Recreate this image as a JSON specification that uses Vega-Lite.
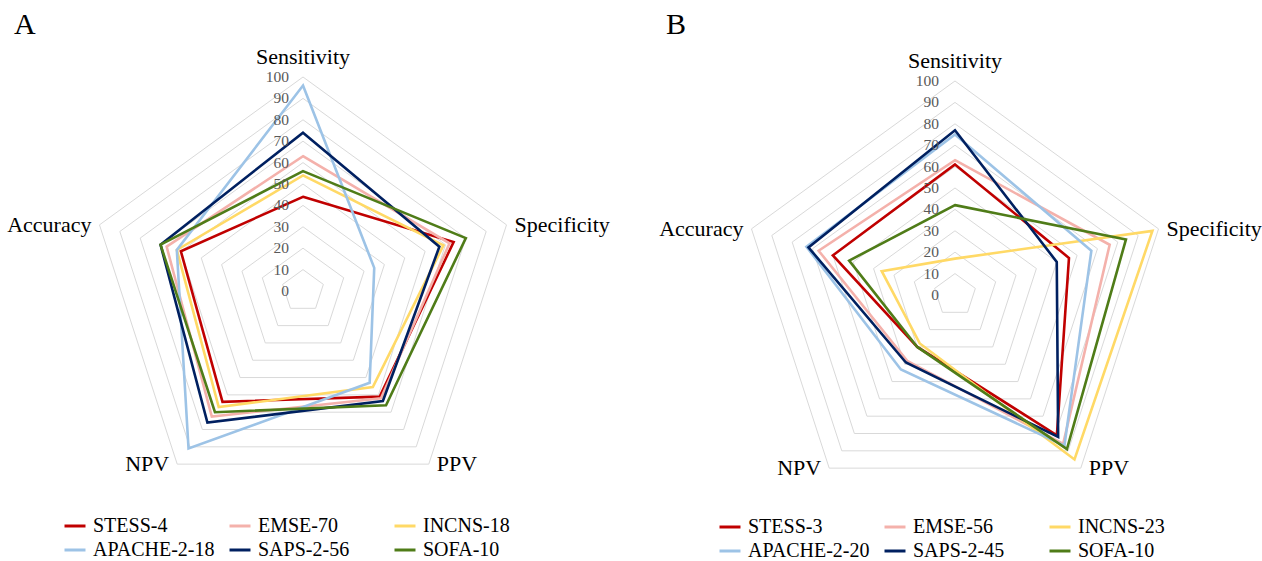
{
  "$schema": "https://vega.github.io/schema/vega-lite/v6.json",
  "padding": {"top": 10, "left": 0, "right": 0, "bottom": 0},
  "spacing": 22,
  "config": {
    "view": {"stroke": null},
    "font": "Liberation Serif",
    "legend": {"labelFont": "Liberation Serif", "labelFontSize": 20, "labelColor": "black", "direction": "horizontal"},
    "title": {"font": "Liberation Serif"}
  },
  "datasets": {
    "gridRows": [
      {"g":10,"k":0},{"g":10,"k":1},{"g":10,"k":2},{"g":10,"k":3},{"g":10,"k":4},
      {"g":20,"k":0},{"g":20,"k":1},{"g":20,"k":2},{"g":20,"k":3},{"g":20,"k":4},
      {"g":30,"k":0},{"g":30,"k":1},{"g":30,"k":2},{"g":30,"k":3},{"g":30,"k":4},
      {"g":40,"k":0},{"g":40,"k":1},{"g":40,"k":2},{"g":40,"k":3},{"g":40,"k":4},
      {"g":50,"k":0},{"g":50,"k":1},{"g":50,"k":2},{"g":50,"k":3},{"g":50,"k":4},
      {"g":60,"k":0},{"g":60,"k":1},{"g":60,"k":2},{"g":60,"k":3},{"g":60,"k":4},
      {"g":70,"k":0},{"g":70,"k":1},{"g":70,"k":2},{"g":70,"k":3},{"g":70,"k":4},
      {"g":80,"k":0},{"g":80,"k":1},{"g":80,"k":2},{"g":80,"k":3},{"g":80,"k":4},
      {"g":90,"k":0},{"g":90,"k":1},{"g":90,"k":2},{"g":90,"k":3},{"g":90,"k":4},
      {"g":100,"k":0},{"g":100,"k":1},{"g":100,"k":2},{"g":100,"k":3},{"g":100,"k":4}
    ],
    "ticks": [{"t":0},{"t":10},{"t":20},{"t":30},{"t":40},{"t":50},{"t":60},{"t":70},{"t":80},{"t":90},{"t":100}],
    "metrics": [{"metric":"Sensitivity"},{"metric":"Specificity"},{"metric":"PPV"},{"metric":"NPV"},{"metric":"Accuracy"}],
    "scoresA": [
      {"model":"STESS-4","metric":"Sensitivity","value":44},{"model":"STESS-4","metric":"Specificity","value":74},{"model":"STESS-4","metric":"PPV","value":61},{"model":"STESS-4","metric":"NPV","value":64},{"model":"STESS-4","metric":"Accuracy","value":60},
      {"model":"EMSE-70","metric":"Sensitivity","value":63},{"model":"EMSE-70","metric":"Specificity","value":72},{"model":"EMSE-70","metric":"PPV","value":62},{"model":"EMSE-70","metric":"NPV","value":72.5},{"model":"EMSE-70","metric":"Accuracy","value":67},
      {"model":"INCNS-18","metric":"Sensitivity","value":54},{"model":"INCNS-18","metric":"Specificity","value":69},{"model":"INCNS-18","metric":"PPV","value":55.5},{"model":"INCNS-18","metric":"NPV","value":67},{"model":"INCNS-18","metric":"Accuracy","value":62},
      {"model":"APACHE-2-18","metric":"Sensitivity","value":96},{"model":"APACHE-2-18","metric":"Specificity","value":35},{"model":"APACHE-2-18","metric":"PPV","value":53},{"model":"APACHE-2-18","metric":"NPV","value":91},{"model":"APACHE-2-18","metric":"Accuracy","value":62},
      {"model":"SAPS-2-56","metric":"Sensitivity","value":74},{"model":"SAPS-2-56","metric":"Specificity","value":67},{"model":"SAPS-2-56","metric":"PPV","value":63.5},{"model":"SAPS-2-56","metric":"NPV","value":76},{"model":"SAPS-2-56","metric":"Accuracy","value":70},
      {"model":"SOFA-10","metric":"Sensitivity","value":56},{"model":"SOFA-10","metric":"Specificity","value":80},{"model":"SOFA-10","metric":"PPV","value":66},{"model":"SOFA-10","metric":"NPV","value":70},{"model":"SOFA-10","metric":"Accuracy","value":70}
    ],
    "scoresB": [
      {"model":"STESS-3","metric":"Sensitivity","value":61},{"model":"STESS-3","metric":"Specificity","value":56},{"model":"STESS-3","metric":"PPV","value":81},{"model":"STESS-3","metric":"NPV","value":30},{"model":"STESS-3","metric":"Accuracy","value":60},
      {"model":"EMSE-56","metric":"Sensitivity","value":63},{"model":"EMSE-56","metric":"Specificity","value":76},{"model":"EMSE-56","metric":"PPV","value":86},{"model":"EMSE-56","metric":"NPV","value":38},{"model":"EMSE-56","metric":"Accuracy","value":67},
      {"model":"INCNS-23","metric":"Sensitivity","value":17},{"model":"INCNS-23","metric":"Specificity","value":97},{"model":"INCNS-23","metric":"PPV","value":95},{"model":"INCNS-23","metric":"NPV","value":28},{"model":"INCNS-23","metric":"Accuracy","value":36},
      {"model":"APACHE-2-20","metric":"Sensitivity","value":75},{"model":"APACHE-2-20","metric":"Specificity","value":67},{"model":"APACHE-2-20","metric":"PPV","value":87},{"model":"APACHE-2-20","metric":"NPV","value":43},{"model":"APACHE-2-20","metric":"Accuracy","value":73},
      {"model":"SAPS-2-45","metric":"Sensitivity","value":77},{"model":"SAPS-2-45","metric":"Specificity","value":50},{"model":"SAPS-2-45","metric":"PPV","value":82},{"model":"SAPS-2-45","metric":"NPV","value":39},{"model":"SAPS-2-45","metric":"Accuracy","value":72},
      {"model":"SOFA-10","metric":"Sensitivity","value":42},{"model":"SOFA-10","metric":"Specificity","value":84},{"model":"SOFA-10","metric":"PPV","value":89},{"model":"SOFA-10","metric":"NPV","value":30},{"model":"SOFA-10","metric":"Accuracy","value":52}
    ]
  },
  "resolve": {"scale": {"x": "independent", "y": "independent", "color": "independent"}, "legend": {"color": "independent"}},
  "hconcat": [
    {
      "width": 620,
      "height": 527,
      "title": {"text": "A", "anchor": "start", "frame": "group", "fontSize": 30, "font": "Liberation Serif", "fontWeight": "normal", "color": "black", "offset": 0, "dx": 14, "dy": 10},
      "layer": [
        {
          "data": {"name": "gridRows"},
          "transform": [
            {"calculate": "datum.g*sin(datum.k*2*PI/5)", "as": "px"},
            {"calculate": "datum.g*cos(datum.k*2*PI/5)", "as": "py"}
          ],
          "mark": {"type": "line", "interpolate": "linear-closed", "stroke": "#D9D9D9", "strokeWidth": 1},
          "encoding": {
            "x": {"field": "px", "type": "quantitative", "scale": {"domain": [-141.59, 148.13], "nice": false, "zero": false}, "axis": null},
            "y": {"field": "py", "type": "quantitative", "scale": {"domain": [-124.3, 121.96], "nice": false, "zero": false}, "axis": null},
            "detail": {"field": "g", "type": "nominal"},
            "order": {"field": "k", "type": "quantitative"}
          }
        },
        {
          "data": {"name": "scoresA"},
          "transform": [
            {"calculate": "indexof(['Sensitivity','Specificity','PPV','NPV','Accuracy'], datum.metric)", "as": "k"},
            {"calculate": "datum.value*sin(datum.k*2*PI/5)", "as": "px"},
            {"calculate": "datum.value*cos(datum.k*2*PI/5)", "as": "py"}
          ],
          "mark": {"type": "line", "interpolate": "linear-closed", "strokeWidth": 2.6, "strokeJoin": "miter"},
          "encoding": {
            "x": {"field": "px", "type": "quantitative", "scale": {"domain": [-141.59, 148.13], "nice": false, "zero": false}, "axis": null},
            "y": {"field": "py", "type": "quantitative", "scale": {"domain": [-124.3, 121.96], "nice": false, "zero": false}, "axis": null},
            "color": {
              "field": "model", "type": "nominal",
              "scale": {"domain": ["STESS-4","EMSE-70","INCNS-18","APACHE-2-18","SAPS-2-56","SOFA-10"], "range": ["#C00000","#F4B1AB","#FFD966","#9DC3E6","#002060","#4F7C18"]},
              "legend": {"title": null, "orient": "none", "direction": "horizontal", "legendX": 63, "legendY": 484, "columns": 3, "gridAlign": "all", "columnPadding": 8, "rowPadding": 2, "symbolType": "stroke", "symbolSize": 441, "symbolStrokeWidth": 3, "labelFont": "Liberation Serif", "labelFontSize": 20, "labelColor": "black", "labelOffset": 6, "labelLimit": 300, "padding": 0}
            },
            "order": {"field": "k", "type": "quantitative"}
          }
        },
        {
          "data": {"name": "ticks"},
          "mark": {"type": "text", "align": "right", "baseline": "middle", "dx": -14, "fontSize": 15.5, "font": "Liberation Serif", "color": "#595959"},
          "encoding": {
            "x": {"datum": 0, "type": "quantitative", "scale": {"domain": [-141.59, 148.13], "nice": false, "zero": false}, "axis": null},
            "y": {"field": "t", "type": "quantitative", "scale": {"domain": [-124.3, 121.96], "nice": false, "zero": false}, "axis": null},
            "text": {"field": "t", "type": "quantitative"}
          }
        },
        {
          "data": {"name": "metrics"},
          "transform": [
            {"filter": "datum.metric == 'Sensitivity'"},
            {"calculate": "0", "as": "px"},
            {"calculate": "100", "as": "py"}
          ],
          "mark": {"type": "text", "align": "center", "baseline": "alphabetic", "dy": -13, "fontSize": 22, "font": "Liberation Serif", "color": "black"},
          "encoding": {
            "x": {"field": "px", "type": "quantitative", "scale": {"domain": [-141.59, 148.13], "nice": false, "zero": false}, "axis": null},
            "y": {"field": "py", "type": "quantitative", "scale": {"domain": [-124.3, 121.96], "nice": false, "zero": false}, "axis": null},
            "text": {"field": "metric"}
          }
        },
        {
          "data": {"name": "metrics"},
          "transform": [
            {"calculate": "indexof(['Sensitivity','Specificity','PPV','NPV','Accuracy'], datum.metric)", "as": "k"},
            {"filter": "datum.metric == 'Specificity' || datum.metric == 'PPV'"},
            {"calculate": "100*sin(datum.k*2*PI/5)", "as": "px"},
            {"calculate": "100*cos(datum.k*2*PI/5)", "as": "py"}
          ],
          "mark": {"type": "text", "align": "left", "baseline": "middle", "dx": 8, "dy": 0, "fontSize": 22, "font": "Liberation Serif", "color": "black"},
          "encoding": {
            "x": {"field": "px", "type": "quantitative", "scale": {"domain": [-141.59, 148.13], "nice": false, "zero": false}, "axis": null},
            "y": {"field": "py", "type": "quantitative", "scale": {"domain": [-124.3, 121.96], "nice": false, "zero": false}, "axis": null},
            "text": {"field": "metric"}
          }
        },
        {
          "data": {"name": "metrics"},
          "transform": [
            {"calculate": "indexof(['Sensitivity','Specificity','PPV','NPV','Accuracy'], datum.metric)", "as": "k"},
            {"filter": "datum.metric == 'Accuracy' || datum.metric == 'NPV'"},
            {"calculate": "100*sin(datum.k*2*PI/5)", "as": "px"},
            {"calculate": "100*cos(datum.k*2*PI/5)", "as": "py"}
          ],
          "mark": {"type": "text", "align": "right", "baseline": "middle", "dx": -8, "dy": 0, "fontSize": 22, "font": "Liberation Serif", "color": "black"},
          "encoding": {
            "x": {"field": "px", "type": "quantitative", "scale": {"domain": [-141.59, 148.13], "nice": false, "zero": false}, "axis": null},
            "y": {"field": "py", "type": "quantitative", "scale": {"domain": [-124.3, 121.96], "nice": false, "zero": false}, "axis": null},
            "text": {"field": "metric"}
          }
        }
      ]
    },
    {
      "width": 620,
      "height": 527,
      "title": {"text": "B", "anchor": "start", "frame": "group", "fontSize": 30, "font": "Liberation Serif", "fontWeight": "normal", "color": "black", "offset": 0, "dx": 24, "dy": 10},
      "layer": [
        {
          "data": {"name": "gridRows"},
          "transform": [
            {"calculate": "datum.g*sin(datum.k*2*PI/5)", "as": "px"},
            {"calculate": "datum.g*cos(datum.k*2*PI/5)", "as": "py"}
          ],
          "mark": {"type": "line", "interpolate": "linear-closed", "stroke": "#D9D9D9", "strokeWidth": 1},
          "encoding": {
            "x": {"field": "px", "type": "quantitative", "scale": {"domain": [-146.26, 143.46], "nice": false, "zero": false}, "axis": null},
            "y": {"field": "py", "type": "quantitative", "scale": {"domain": [-122.43, 123.83], "nice": false, "zero": false}, "axis": null},
            "detail": {"field": "g", "type": "nominal"},
            "order": {"field": "k", "type": "quantitative"}
          }
        },
        {
          "data": {"name": "scoresB"},
          "transform": [
            {"calculate": "indexof(['Sensitivity','Specificity','PPV','NPV','Accuracy'], datum.metric)", "as": "k"},
            {"calculate": "datum.value*sin(datum.k*2*PI/5)", "as": "px"},
            {"calculate": "datum.value*cos(datum.k*2*PI/5)", "as": "py"}
          ],
          "mark": {"type": "line", "interpolate": "linear-closed", "strokeWidth": 2.6, "strokeJoin": "miter"},
          "encoding": {
            "x": {"field": "px", "type": "quantitative", "scale": {"domain": [-146.26, 143.46], "nice": false, "zero": false}, "axis": null},
            "y": {"field": "py", "type": "quantitative", "scale": {"domain": [-122.43, 123.83], "nice": false, "zero": false}, "axis": null},
            "color": {
              "field": "model", "type": "nominal",
              "scale": {"domain": ["STESS-3","EMSE-56","INCNS-23","APACHE-2-20","SAPS-2-45","SOFA-10"], "range": ["#C00000","#F4B1AB","#FFD966","#9DC3E6","#002060","#4F7C18"]},
              "legend": {"title": null, "orient": "none", "direction": "horizontal", "legendX": 76, "legendY": 485, "columns": 3, "gridAlign": "all", "columnPadding": 8, "rowPadding": 2, "symbolType": "stroke", "symbolSize": 441, "symbolStrokeWidth": 3, "labelFont": "Liberation Serif", "labelFontSize": 20, "labelColor": "black", "labelOffset": 6, "labelLimit": 300, "padding": 0}
            },
            "order": {"field": "k", "type": "quantitative"}
          }
        },
        {
          "data": {"name": "ticks"},
          "mark": {"type": "text", "align": "right", "baseline": "middle", "dx": -16, "fontSize": 15.5, "font": "Liberation Serif", "color": "#595959"},
          "encoding": {
            "x": {"datum": 0, "type": "quantitative", "scale": {"domain": [-146.26, 143.46], "nice": false, "zero": false}, "axis": null},
            "y": {"field": "t", "type": "quantitative", "scale": {"domain": [-122.43, 123.83], "nice": false, "zero": false}, "axis": null},
            "text": {"field": "t", "type": "quantitative"}
          }
        },
        {
          "data": {"name": "metrics"},
          "transform": [
            {"filter": "datum.metric == 'Sensitivity'"},
            {"calculate": "0", "as": "px"},
            {"calculate": "100", "as": "py"}
          ],
          "mark": {"type": "text", "align": "center", "baseline": "alphabetic", "dy": -13, "fontSize": 22, "font": "Liberation Serif", "color": "black"},
          "encoding": {
            "x": {"field": "px", "type": "quantitative", "scale": {"domain": [-146.26, 143.46], "nice": false, "zero": false}, "axis": null},
            "y": {"field": "py", "type": "quantitative", "scale": {"domain": [-122.43, 123.83], "nice": false, "zero": false}, "axis": null},
            "text": {"field": "metric"}
          }
        },
        {
          "data": {"name": "metrics"},
          "transform": [
            {"calculate": "indexof(['Sensitivity','Specificity','PPV','NPV','Accuracy'], datum.metric)", "as": "k"},
            {"filter": "datum.metric == 'Specificity' || datum.metric == 'PPV'"},
            {"calculate": "100*sin(datum.k*2*PI/5)", "as": "px"},
            {"calculate": "100*cos(datum.k*2*PI/5)", "as": "py"}
          ],
          "mark": {"type": "text", "align": "left", "baseline": "middle", "dx": 8, "dy": 0, "fontSize": 22, "font": "Liberation Serif", "color": "black"},
          "encoding": {
            "x": {"field": "px", "type": "quantitative", "scale": {"domain": [-146.26, 143.46], "nice": false, "zero": false}, "axis": null},
            "y": {"field": "py", "type": "quantitative", "scale": {"domain": [-122.43, 123.83], "nice": false, "zero": false}, "axis": null},
            "text": {"field": "metric"}
          }
        },
        {
          "data": {"name": "metrics"},
          "transform": [
            {"calculate": "indexof(['Sensitivity','Specificity','PPV','NPV','Accuracy'], datum.metric)", "as": "k"},
            {"filter": "datum.metric == 'Accuracy' || datum.metric == 'NPV'"},
            {"calculate": "100*sin(datum.k*2*PI/5)", "as": "px"},
            {"calculate": "100*cos(datum.k*2*PI/5)", "as": "py"}
          ],
          "mark": {"type": "text", "align": "right", "baseline": "middle", "dx": -8, "dy": 0, "fontSize": 22, "font": "Liberation Serif", "color": "black"},
          "encoding": {
            "x": {"field": "px", "type": "quantitative", "scale": {"domain": [-146.26, 143.46], "nice": false, "zero": false}, "axis": null},
            "y": {"field": "py", "type": "quantitative", "scale": {"domain": [-122.43, 123.83], "nice": false, "zero": false}, "axis": null},
            "text": {"field": "metric"}
          }
        }
      ]
    }
  ]
}
